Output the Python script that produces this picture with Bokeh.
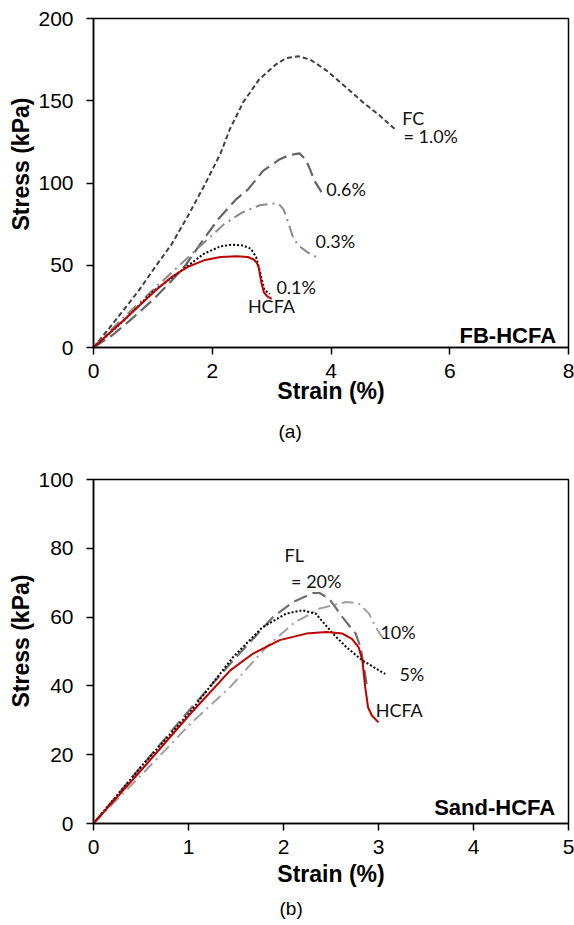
from bokeh.plotting import figure
from bokeh.models import Range1d, FixedTicker, Title, ColumnDataSource
from bokeh.layouts import column
from bokeh.core.properties import value
from bokeh.embed import file_html
from bokeh.resources import INLINE

# ---------------- Panel (a): FB-HCFA ----------------
fc10_strain = [0, 0.27, 0.49, 0.77, 1.04, 1.32, 1.59, 1.86, 2.14, 2.30, 2.52, 2.79, 3.07, 3.25, 3.45, 3.65, 3.92, 4.26, 4.54, 4.82, 5.07]
fc10_stress = [0, 12, 22, 35, 49, 63, 80, 98, 118, 133, 149, 163, 172, 176, 177, 175, 168.5, 158, 149, 141, 133]

fc06_strain = [0, 0.3, 0.6, 1.0, 1.3, 1.55, 1.8, 2.1, 2.4, 2.6, 2.86, 3.14, 3.3, 3.47, 3.58, 3.65, 3.72, 3.84]
fc06_stress = [0, 7, 16, 29, 40, 50, 63, 78, 90, 96, 107.5, 114.5, 117, 118, 114, 108, 101.5, 94.5]

fc03_strain = [0, 0.5, 1.0, 1.3, 1.6, 1.9, 2.2, 2.5, 2.8, 3.0, 3.12, 3.2, 3.28, 3.36, 3.45, 3.6, 3.75]
fc03_stress = [0, 18, 35, 45, 55, 65, 75, 82, 86.5, 87.5, 87.3, 84, 76, 67, 62, 58, 55]

fc01_strain = [0, 0.5, 1.0, 1.3, 1.53, 1.86, 2.14, 2.33, 2.52, 2.65, 2.74, 2.79, 2.83, 2.88, 2.97]
fc01_stress = [0, 16, 34, 42, 48, 57, 61.5, 62.5, 62, 60, 55, 48, 42, 35, 32.5]

hcfa_a_strain = [0, 0.49, 1.04, 1.32, 1.59, 1.86, 2.14, 2.41, 2.6, 2.7, 2.75, 2.78, 2.80, 2.83, 2.87, 2.93, 3.0]
hcfa_a_stress = [0, 16, 34.5, 43, 49, 53, 55, 55.5, 55, 53.5, 51.5, 49, 45, 39, 33.5, 31, 29.5]

a_labels = ["FC", "= 1.0%", "0.6%", "0.3%", "0.1%", "HCFA"]
a_label_x = [5.2, 5.22, 3.92, 3.74, 3.08, 2.60]
a_label_y = [139.6, 128.5, 96.5, 65, 36.5, 25]

a_xticks = [0, 2, 4, 6, 8]
a_yticks = [0, 50, 100, 150, 200]

# ---------------- Panel (b): Sand-HCFA ----------------
fl20_strain = [0, 0.5, 1.02, 1.44, 1.89, 2.1, 2.31, 2.38, 2.48, 2.62, 2.76, 2.81, 2.85, 2.88]
fl20_stress = [0, 16.5, 33.3, 46.5, 60, 64.4, 67, 67, 65.4, 60, 55.2, 51.3, 45, 39.7]

fl10_strain = [0, 0.5, 1.02, 1.44, 1.82, 2.1, 2.38, 2.66, 2.79, 2.9, 2.97, 3.07]
fl10_stress = [0, 14, 29, 39.7, 51.3, 58.1, 62.5, 64.4, 64, 61, 57.1, 52.8]

fl5_strain = [0, 0.5, 1.02, 1.47, 1.78, 2.03, 2.2, 2.34, 2.52, 2.66, 2.83, 3.07]
fl5_stress = [0, 16.5, 32.5, 48.4, 57.1, 61, 62, 61, 55.2, 51.3, 47.4, 43.5]

hcfa_b_strain = [0, 0.56, 1.02, 1.44, 1.68, 1.96, 2.24, 2.45, 2.62, 2.72, 2.79, 2.83, 2.86, 2.89, 2.93, 3.0]
hcfa_b_stress = [0, 17.3, 31.9, 44.5, 49.4, 53.3, 55.2, 55.7, 55.2, 53.7, 51.3, 47.4, 39.7, 33.8, 31.4, 29.4]

b_labels = ["FL", "= 20%", "10%", "5%", "HCFA"]
b_label_x = [2.01, 2.08, 3.02, 3.22, 2.97]
b_label_y = [78, 70.5, 55.6, 43.6, 32.9]

b_xticks = [0, 1, 2, 3, 4, 5]
b_yticks = [0, 20, 40, 60, 80, 100]

TICK_FONT = "Liberation Sans"
ANNO_FONT = "Lato"


def style(p, xticks, yticks, xlabel_standoff, ylabel_offset, caption, caption_offset, caption_standoff):
    p.xgrid.visible = False
    p.ygrid.visible = False
    p.outline_line_color = "black"
    p.outline_line_width = 1.5
    for ax in (p.xaxis[0], p.yaxis[0]):
        ax.axis_line_color = "black"
        ax.axis_line_width = 1.5
        ax.major_tick_line_color = "black"
        ax.major_tick_line_width = 1.5
        ax.major_tick_in = 0
        ax.major_tick_out = 7
        ax.minor_tick_line_color = None
        ax.major_label_text_font = TICK_FONT
        ax.major_label_text_font_size = "21px"
        ax.major_label_text_color = "black"
    p.xaxis[0].ticker = FixedTicker(ticks=xticks)
    p.yaxis[0].ticker = FixedTicker(ticks=yticks)
    p.xaxis[0].major_label_standoff = 9
    p.yaxis[0].major_label_standoff = 13
    p.xaxis[0].axis_label = "Strain (%)"
    p.xaxis[0].axis_label_text_font = TICK_FONT
    p.xaxis[0].axis_label_text_font_style = "bold"
    p.xaxis[0].axis_label_text_font_size = "23px"
    p.xaxis[0].axis_label_text_color = "black"
    p.xaxis[0].axis_label_standoff = xlabel_standoff
    p.add_layout(Title(text="Stress (kPa)", align="left", offset=ylabel_offset,
                       text_font=TICK_FONT, text_font_style="bold",
                       text_font_size="23px", text_color="black", standoff=3), "left")
    p.add_layout(Title(text=caption, align="left", offset=caption_offset,
                       text_font=TICK_FONT, text_font_style="normal",
                       text_font_size="19px", text_color="black",
                       standoff=caption_standoff), "below")


# ---------- figure (a)
p1 = figure(width=574, height=462, output_backend="svg", toolbar_location=None,
            x_range=Range1d(0, 8), y_range=Range1d(0, 200),
            min_border_left=93, min_border_right=4, min_border_top=18, min_border_bottom=115)
p1.background_fill_color = "white"
p1.border_fill_color = "white"

p1.line(fc10_strain, fc10_stress, line_color="#404040", line_width=2, line_dash="5 3")
p1.line(fc06_strain, fc06_stress, line_color="#646464", line_width=2.2, line_dash="14 6")
p1.line(fc03_strain, fc03_stress, line_color="#8a8a8a", line_width=2, line_dash="12 5 2 5")
p1.line(fc01_strain, fc01_stress, line_color="black", line_width=2, line_dash="2 2")
p1.line(hcfa_a_strain, hcfa_a_stress, line_color="#c00000", line_width=2)

src_a = ColumnDataSource(dict(x=a_label_x, y=a_label_y, t=a_labels))
p1.text(x="x", y="y", text="t", source=src_a, text_font=value(ANNO_FONT),
        text_font_size="18px", text_color="#111111", text_baseline="middle", text_align="left")
p1.text(x=[7.79], y=[7.1], text=["FB-HCFA"], text_font=value(TICK_FONT), text_font_style="bold",
        text_font_size="22px", text_color="black", text_align="right", text_baseline="alphabetic")

style(p1, a_xticks, a_yticks, xlabel_standoff=-3, ylabel_offset=117,
      caption="(a)", caption_offset=185, caption_standoff=24)

# ---------- figure (b)
p2 = figure(width=574, height=463, output_backend="svg", toolbar_location=None,
            x_range=Range1d(0, 5), y_range=Range1d(0, 100),
            min_border_left=93, min_border_right=6, min_border_top=17, min_border_bottom=102)
p2.background_fill_color = "white"
p2.border_fill_color = "white"

p2.line(fl20_strain, fl20_stress, line_color="#6e6e6e", line_width=2.2, line_dash="14 6")
p2.line(fl10_strain, fl10_stress, line_color="#a0a0a0", line_width=2, line_dash="12 5 2 5")
p2.line(fl5_strain, fl5_stress, line_color="black", line_width=2, line_dash="2 2")
p2.line(hcfa_b_strain, hcfa_b_stress, line_color="#c00000", line_width=2)

src_b = ColumnDataSource(dict(x=b_label_x, y=b_label_y, t=b_labels))
p2.text(x="x", y="y", text="t", source=src_b, text_font=value(ANNO_FONT),
        text_font_size="18px", text_color="#111111", text_baseline="middle", text_align="left")
p2.text(x=[4.86], y=[4.6], text=["Sand-HCFA"], text_font=value(TICK_FONT), text_font_style="bold",
        text_font_size="22px", text_color="black", text_align="right", text_baseline="alphabetic")

style(p2, b_xticks, b_yticks, xlabel_standoff=4, ylabel_offset=116,
      caption="(b)", caption_offset=186, caption_standoff=12)

layout = column(p1, p2, spacing=0)
open("out.html", "w").write(file_html(layout, INLINE))
